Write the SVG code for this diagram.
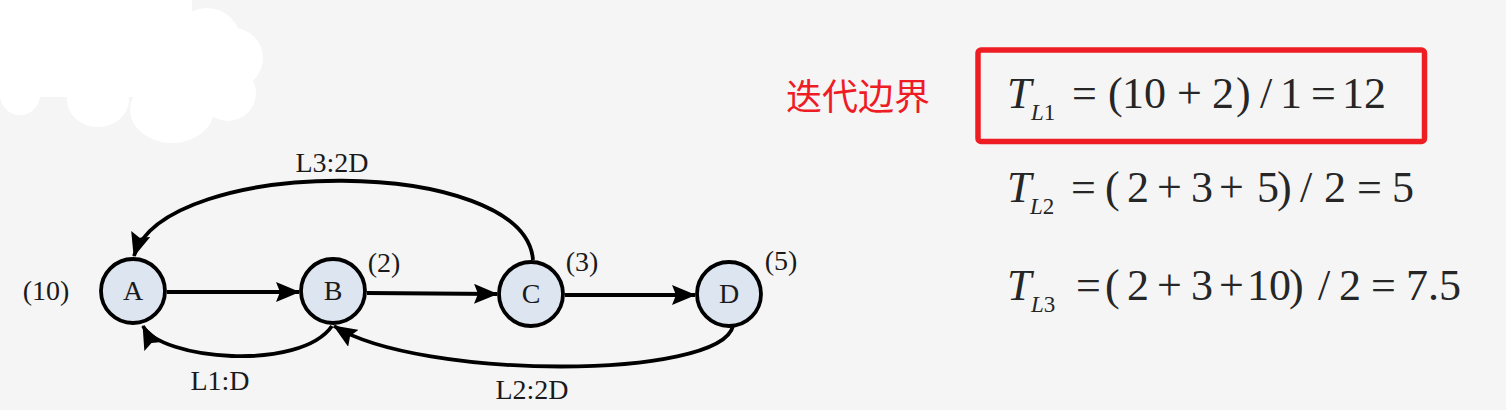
<svg xmlns="http://www.w3.org/2000/svg" width="1506" height="410" viewBox="0 0 1506 410">
<style>
.node circle{fill:#dde5f0;stroke:#000;stroke-width:3.8}
.nl{font-family:"Liberation Serif",serif;font-size:28px;fill:#1a1a1a;text-anchor:middle}
.lbl{font-family:"Liberation Serif",serif;font-size:28px;fill:#1a1a1a;text-anchor:middle}
.edge{fill:none;stroke:#000;stroke-width:3.8}
.fm{font-family:"Liberation Serif",serif;font-size:44px;fill:#262626}
.fs{font-family:"Liberation Serif",serif;font-size:23px;fill:#262626}
.it{font-style:italic}
</style>
<defs>
<marker id="ah" viewBox="0 0 24 20" markerWidth="24" markerHeight="20" refX="23" refY="10" orient="auto" markerUnits="userSpaceOnUse">
<path d="M0,0 L24,10 L0,20 L4,10 Z" fill="#000"/>
</marker>
</defs>
<rect x="0" y="0" width="1506" height="410" fill="#f5f5f5"/>
<g id="cloud" fill="#fff">
<rect x="0" y="0" width="192" height="97"/>
<circle cx="207" cy="42" r="34"/>
<circle cx="233" cy="58" r="30"/>
<circle cx="228" cy="93" r="28"/>
<rect x="180" y="30" width="55" height="80"/>
<ellipse cx="172" cy="110" rx="42" ry="33"/>
<ellipse cx="98" cy="100" rx="31" ry="27"/>
<circle cx="20" cy="95" r="20"/>
</g>
<g id="connectors">
<path class="edge" d="M167,292 L299,292" marker-end="url(#ah)"/>
<path class="edge" d="M367,293 L497,294" marker-end="url(#ah)"/>
<path class="edge" d="M565,295 L695,295" marker-end="url(#ah)"/>
<path class="edge" d="M533,260 C525,155 165,155 134,256" marker-end="url(#ah)"/>
<path class="edge" d="M332,326 C300,372 160,360 143,326" marker-end="url(#ah)"/>
<path class="edge" d="M733,326 C720,380 420,380 334,326" marker-end="url(#ah)"/>
<text class="lbl" x="332" y="172">L3:2D</text>
<text class="lbl" x="220" y="390">L1:D</text>
<text class="lbl" x="532" y="399">L2:2D</text>
</g>
<g id="nodeA" class="node">
<circle cx="133" cy="291" r="32"/>
<text class="nl" x="133" y="300">A</text>
<text class="lbl" x="46" y="300">(10)</text>
</g>
<g id="nodeB" class="node">
<circle cx="333" cy="291" r="32"/>
<text class="nl" x="333" y="300">B</text>
<text class="lbl" x="384" y="272">(2)</text>
</g>
<g id="nodeC" class="node">
<circle cx="531" cy="294" r="32"/>
<text class="nl" x="531" y="303">C</text>
<text class="lbl" x="582" y="271">(3)</text>
</g>
<g id="nodeD" class="node">
<circle cx="729" cy="294" r="32"/>
<text class="nl" x="729" y="303">D</text>
<text class="lbl" x="781" y="270">(5)</text>
</g>
<g id="formulas">
<text x="786" y="110" font-family="'Noto Sans CJK SC',sans-serif" font-size="36" fill="#ee1c25">迭代边界</text>
<rect x="978" y="50" width="446.5" height="91.5" rx="3" fill="none" stroke="#ee1d23" stroke-width="5.5"/>
<text class="fm it" x="1007" y="108">T</text>
<text class="fs" x="1031" y="120"><tspan class="it">L</tspan>1</text>
<text class="fm" x="1072" y="108">=</text>
<text class="fm" x="1108" y="108">(</text>
<text class="fm" x="1122" y="108">10</text>
<text class="fm" x="1177" y="108">+</text>
<text class="fm" x="1212" y="108">2</text>
<text class="fm" x="1236" y="108">)</text>
<text class="fm" x="1260" y="108">/</text>
<text class="fm" x="1280" y="108">1</text>
<text class="fm" x="1311" y="108">=</text>
<text class="fm" x="1342" y="108">12</text>
<text class="fm it" x="1007" y="202">T</text>
<text class="fs" x="1030" y="214"><tspan class="it">L</tspan>2</text>
<text class="fm" x="1071" y="202">=</text>
<text class="fm" x="1105" y="202">(</text>
<text class="fm" x="1127" y="202">2</text>
<text class="fm" x="1157" y="202">+</text>
<text class="fm" x="1191" y="202">3</text>
<text class="fm" x="1219" y="202">+</text>
<text class="fm" x="1257" y="202">5</text>
<text class="fm" x="1277" y="202">)</text>
<text class="fm" x="1300" y="202">/</text>
<text class="fm" x="1324" y="202">2</text>
<text class="fm" x="1357" y="202">=</text>
<text class="fm" x="1392" y="202">5</text>
<text class="fm it" x="1007" y="300">T</text>
<text class="fs" x="1031" y="312"><tspan class="it">L</tspan>3</text>
<text class="fm" x="1076" y="300">=</text>
<text class="fm" x="1105" y="300">(</text>
<text class="fm" x="1127" y="300">2</text>
<text class="fm" x="1157" y="300">+</text>
<text class="fm" x="1191" y="300">3</text>
<text class="fm" x="1219" y="300">+</text>
<text class="fm" x="1247" y="300">10</text>
<text class="fm" x="1289" y="300">)</text>
<text class="fm" x="1318" y="300">/</text>
<text class="fm" x="1339" y="300">2</text>
<text class="fm" x="1371" y="300">=</text>
<text class="fm" x="1406" y="300">7.5</text>
</g>
</svg>
